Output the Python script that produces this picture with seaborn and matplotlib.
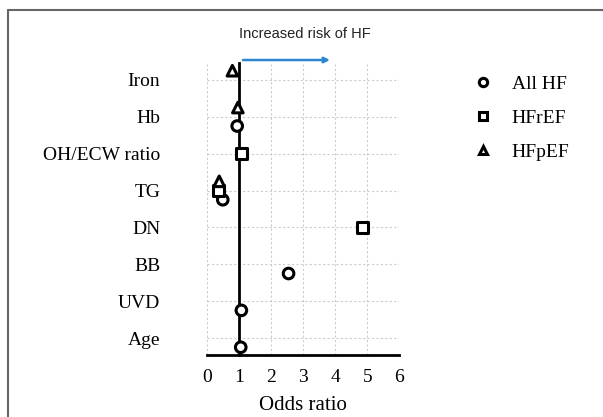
import numpy as np
import pandas as pd
import matplotlib
matplotlib.use('Agg')
import matplotlib.pyplot as plt
import seaborn as sns
from matplotlib.lines import Line2D

# 数据
categories = ['Iron', 'Hb', 'OH/ECW ratio', 'TG', 'DN', 'BB', 'UVD', 'Age']
all_hf = [np.nan, 0.95, np.nan, 0.50, np.nan, 2.55, 1.08, 1.06]
hfref = [np.nan, np.nan, 1.08, 0.36, 4.86, np.nan, np.nan, np.nan]
hfpef = [0.80, 0.97, np.nan, 0.39, np.nan, np.nan, np.nan, np.nan]
groups = ['All HF', 'HFrEF', 'HFpEF']
x_ticks = [0, 1, 2, 3, 4, 5, 6]

sns.set_style('white')
plt.rcParams['font.family'] = ['Liberation Serif', 'DejaVu Serif']
plt.rcParams['text.color'] = 'black'

df = pd.DataFrame({'Variable': categories, 'All HF': all_hf,
                   'HFrEF': hfref, 'HFpEF': hfpef})
df = df.melt(id_vars='Variable', var_name='Group', value_name='OR').dropna()
n = len(categories)
offsets = {'All HF': -0.25, 'HFrEF': 0.0, 'HFpEF': 0.25}
df['pos'] = df['Variable'].map({c: n - 1 - i for i, c in enumerate(categories)}) \
    + df['Group'].map(offsets)

fig = plt.figure(figsize=(6.03, 4.17), dpi=100)
ax = fig.add_axes([0.3428, 0.1487, 0.3194, 0.7003])

markers = {'All HF': 'o', 'HFrEF': 's', 'HFpEF': '^'}
sns.scatterplot(data=df, x='OR', y='pos', style='Group', markers=markers,
                style_order=groups, color='white', edgecolor='black',
                linewidth=2.2, s=58, legend=False, ax=ax, zorder=5, clip_on=False)

ax.set_xlim(0, 6)
ax.set_ylim(-0.46, n - 1 + 0.46)
ax.set_xticks(x_ticks)
ax.set_yticks([n - 1 - i for i in range(n)])
ax.set_yticklabels(categories)

ax.grid(True, color='#cccccc', linestyle=(0, (2, 2)), linewidth=0.8)
ax.set_axisbelow(True)
for s in ['top', 'right']:
    ax.spines[s].set_visible(False)
ax.spines['left'].set_position(('data', 1))
ax.spines['left'].set_linewidth(2)
ax.spines['left'].set_color('black')
ax.spines['bottom'].set_linewidth(2)
ax.spines['bottom'].set_color('black')
ax.tick_params(axis='y', direction='out', length=3.5, width=1.2, pad=53,
               labelsize=14, colors='black')
ax.tick_params(axis='x', direction='in', length=4, width=1.5, pad=10,
               labelsize=14, colors='black')
ax.set_xlabel('Odds ratio', fontsize=15, labelpad=7, color='black')
ax.set_ylabel('')

# 箭头和说明
ax.annotate('', xy=(3.84, n - 1 + 0.54), xytext=(1.13, n - 1 + 0.54),
            arrowprops=dict(arrowstyle='-|>', color='#2e86d0', lw=1.8,
                            mutation_scale=8, shrinkA=0, shrinkB=0),
            annotation_clip=False)
ax.text(3.06, n - 1 + 1.25, 'Increased risk of HF', ha='center', va='center',
        fontsize=10.5, family='Liberation Sans', color='#222222')

handles = [Line2D([], [], marker=markers[g], ls='', mfc='white', mec='black',
                  mew=2.2, ms=6) for g in groups]
fig.legend(handles, groups, loc='upper left', bbox_to_anchor=(473 / 603, 1 - 75 / 417),
           frameon=False, fontsize=14, handlelength=1, handletextpad=1.0,
           labelspacing=0.86, borderpad=0, borderaxespad=0)

# 外边框
fig.add_artist(Line2D([8 / 603, 1], [1 - 10 / 417, 1 - 10 / 417], color='#666666', lw=1.5))
fig.add_artist(Line2D([8 / 603, 8 / 603], [0, 1 - 10 / 417], color='#666666', lw=1.5))

fig.savefig('out.png', dpi=100)
